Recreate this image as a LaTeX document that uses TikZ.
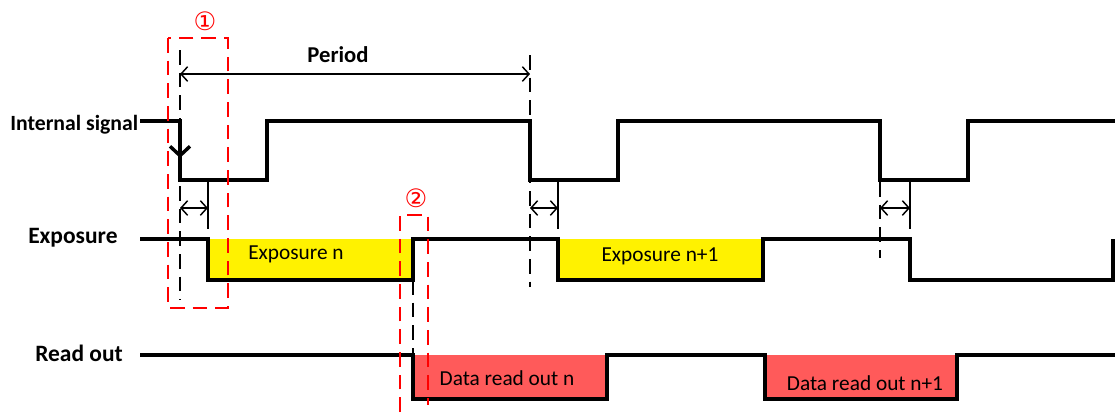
\documentclass[tikz,border=0pt]{standalone}
\usepackage{fontspec}
\setmainfont{Carlito}
\newfontfamily\symfont{DejaVu Sans}
\usetikzlibrary{arrows.meta}
\definecolor{readred}{RGB}{255,90,90}
\begin{document}
\begin{tikzpicture}[x=0.75pt,y=-0.75pt,
 sig/.style={line width=2.6pt, line join=miter},
 guide/.style={line width=1.1pt, dash pattern=on 11pt off 6pt},
 tick/.style={line width=1.1pt},
 redbox/.style={draw=red, line width=1.4pt, dash pattern=on 11pt off 6pt},
 lbl/.style={font=\bfseries\fontsize{16.3}{18}\selectfont, anchor=west, inner sep=0},
 biglbl/.style={lbl, font=\bfseries\fontsize{17.6}{19}\selectfont},
 inlbl/.style={font=\fontsize{16}{18}\selectfont, inner sep=0},
 dim/.style={line width=1.1pt, {Straight Barb[length=5pt,width=11pt]}-{Straight Barb[length=5pt,width=11pt]}},
 circ/.style={text=red, font=\symfont\fontsize{19}{19}\selectfont, inner sep=0},
]
\useasboundingbox (0,0) rectangle (1115,412);
% fills
\fill[yellow] (208,239) rectangle (413,280);
\fill[yellow] (558,239) rectangle (763,280);
\fill[readred] (413,355) rectangle (607,399);
\fill[readred] (765,355) rectangle (957,399);
% guides
\coordinate (g1a) at (180,50);  \coordinate (g1b) at (180,300);
\coordinate (g2a) at (530,55);  \coordinate (g2b) at (530,287);
\coordinate (g3a) at (880,182); \coordinate (g3b) at (880,258);
\coordinate (g4a) at (413,280); \coordinate (g4b) at (413,357);
\draw[guide] (g1a) -- (g1b);
\draw[guide] (g2a) -- (g2b);
\draw[guide] (g3a) -- (g3b);
\draw[guide] (g4a) -- (g4b);
\coordinate (t1a) at (208,182); \coordinate (t1b) at (208,229);
\coordinate (t2a) at (558,182); \coordinate (t2b) at (558,229);
\coordinate (t3a) at (910,182); \coordinate (t3b) at (910,229);
\draw[tick] (t1a) -- (t1b);
\draw[tick] (t2a) -- (t2b);
\draw[tick] (t3a) -- (t3b);
% dimension arrows
\coordinate (p1) at (180,74); \coordinate (p2) at (530,74);
\draw[dim] (p1) -- (p2);
\coordinate (d1a) at (180,208); \coordinate (d1b) at (208,208);
\coordinate (d2a) at (530,208); \coordinate (d2b) at (558,208);
\coordinate (d3a) at (880,208); \coordinate (d3b) at (910,208);
\draw[dim] (d1a) -- (d1b);
\draw[dim] (d2a) -- (d2b);
\draw[dim] (d3a) -- (d3b);
% signals
\draw[sig] (140,121) -| (180,180) -| (267,121) -| (530,180) -| (618,121) -| (880,180) -| (968,121) -- (1115,121);
\draw[sig] (140,239) -| (208,280) -| (413,239) -| (558,280) -| (763,239) -| (910,280) -| (1113,239);
\draw[sig] (140,355) -| (413,399) -| (607,355) -| (765,399) -| (957,355) -- (1115,355);
\coordinate (da) at (180,121); \coordinate (db) at (180,158);
\draw[line width=2.6pt, -{Straight Barb[length=7pt,width=15pt]}] (da) -- (db);
% texts
\node[lbl] (intl) at (10,125) {Internal signal};
\node[biglbl] (expl) at (28,238) {Exposure};
\node[biglbl] (rdl) at (35,353) {Read out};
\node[font=\bfseries\fontsize{17}{19}\selectfont, inner sep=0] (period) at (338,55) {Period};
\node[inlbl] (en) at (296,254) {Exposure n};
\node[inlbl] (en1) at (660,256) {Exposure n+1};
\node[inlbl] (rn) at (507,378) {Data read out n};
\node[inlbl] (rn1) at (865,383) {Data read out n+1};
% red boxes
\node[circ] (c1) at (205,21) {①};
\node[circ] (c2) at (416,198) {②};
\draw[redbox] (168,38) rectangle (228,308);
\draw[redbox] (400,412) |- (428,215) -- (428,405);
\end{tikzpicture}
\end{document}
